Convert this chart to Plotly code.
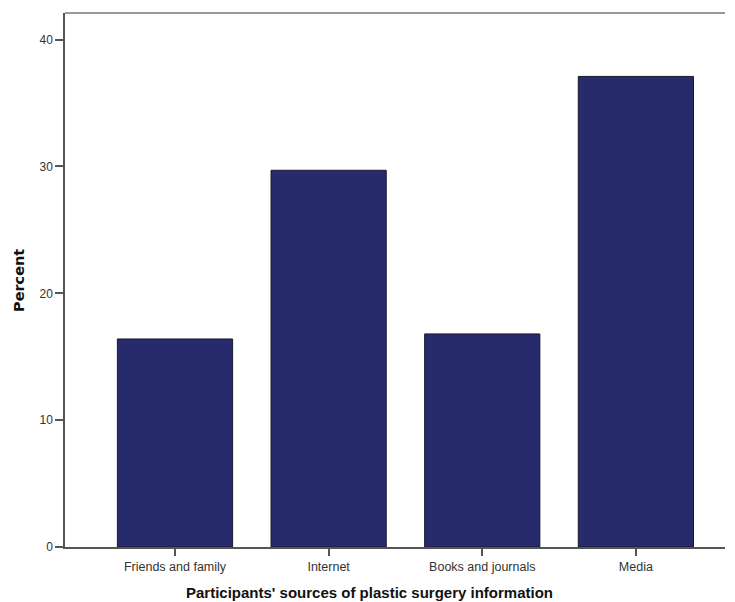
import plotly.graph_objects as go

categories = ["Friends and family", "Internet", "Books and journals", "Media"]
percent = [16.4, 29.7, 16.8, 37.1]
y_ticks = [0, 10, 20, 30, 40]
y_tick_labels = ["0", "10", "20", "30", "40"]
x_title = "Participants' sources of plastic surgery information"
y_title = "Percent"

fig = go.Figure()
fig.add_trace(go.Bar(
    x=list(range(len(categories))),
    y=percent,
    width=0.75,
    marker=dict(color="#282a6e", line=dict(color="#1a1a2a", width=1)),
))

fig.update_layout(
    width=735, height=602,
    margin=dict(l=57, r=18, t=5, b=63, autoexpand=False),
    paper_bgcolor="white", plot_bgcolor="white",
    showlegend=False,
    xaxis=dict(
        tickmode="array", tickvals=list(range(len(categories))), ticktext=categories,
        range=[-0.716, 3.58],
        showline=True, linecolor="#555555", linewidth=1.5, mirror=False,
        ticks="outside", ticklen=7, tickwidth=1.5, tickcolor="#555555",
        tickfont=dict(family="Liberation Sans, Arial", size=12.5, color="#333333"),
        showgrid=False, zeroline=False, automargin=False,
    ),
    yaxis=dict(
        tickmode="array", tickvals=y_ticks, ticktext=y_tick_labels,
        range=[0, 42.1],
        showline=True, linecolor="#555555", linewidth=1.5,
        ticks="outside", ticklen=8, tickwidth=1.5, tickcolor="#555555",
        tickfont=dict(family="Liberation Sans, Arial", size=12, color="#333333"),
        showgrid=False, zeroline=False, automargin=False,
    ),
    shapes=[dict(type="line", xref="paper", yref="paper", x0=0, x1=1, y0=1, y1=1,
                 line=dict(color="#777777", width=1.5))],
    annotations=[
        dict(text="<b>" + x_title + "</b>", xref="paper", yref="paper",
             x=0.4621, y=-0.0861, xanchor="center", yanchor="middle", showarrow=False,
             font=dict(family="Liberation Sans, Arial", size=15, color="#111111")),
        dict(text="<b>" + y_title + "</b>", xref="paper", yref="paper",
             x=-0.0697, y=0.5, xanchor="center", yanchor="middle", showarrow=False,
             textangle=-90,
             font=dict(family="DejaVu Sans", size=14.5, color="#111111")),
    ],
)

fig.write_html("out.html")
